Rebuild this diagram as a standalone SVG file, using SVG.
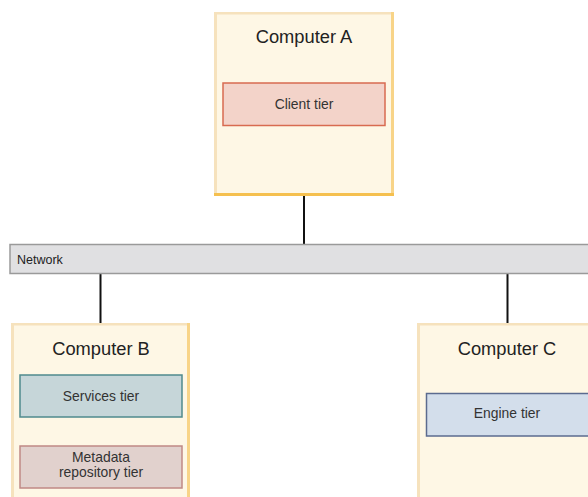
<svg xmlns="http://www.w3.org/2000/svg" width="588" height="497" viewBox="0 0 588 497">
<style>
.comp{fill:#fef7e5}
.edgeL{fill:#f6e2bd}
.edgeR{fill:#f8d488}
.edgeB{fill:#f5c04f}
.title{font-family:"Liberation Sans",Arial,sans-serif;font-size:18.3px;fill:#222;text-anchor:middle}
.lbl{font-family:"Liberation Sans",Arial,sans-serif;font-size:13.9px;fill:#333;text-anchor:middle}
.conn{stroke:#111;stroke-width:2;fill:none}
</style>
<rect width="588" height="497" fill="#ffffff"/>
<g id="connectors">
<line class="conn" x1="304" y1="195" x2="304" y2="244"/>
<line class="conn" x1="100.5" y1="274" x2="100.5" y2="323"/>
<line class="conn" x1="507.5" y1="274" x2="507.5" y2="323"/>
</g>
<g id="network">
<rect x="10" y="244.5" width="584" height="29" fill="#e0e0e2" stroke="#9a9a9a" stroke-width="1.5"/>
<text x="17" y="264" font-family="Liberation Sans,Arial,sans-serif" font-size="12.5px" fill="#222">Network</text>
</g>
<g id="computerA">
<rect class="comp" x="214" y="12" width="180" height="184"/>
<rect class="edgeL" x="214" y="12" width="180" height="2.5"/>
<rect class="edgeL" x="214" y="12" width="3" height="184"/>
<rect class="edgeR" x="391" y="12" width="3" height="184"/>
<rect class="edgeB" x="214" y="193" width="180" height="3"/>
<text class="title" x="304" y="42.5">Computer A</text>
</g>
<g id="clientTier">
<rect x="223" y="83" width="162" height="42.5" fill="#f3d3c9" stroke="#d86b50" stroke-width="1.5"/>
<text class="lbl" x="304" y="109">Client tier</text>
</g>
<g id="computerB">
<rect class="comp" x="11" y="323" width="179" height="180"/>
<rect class="edgeL" x="11" y="323" width="179" height="2.5"/>
<rect class="edgeL" x="11" y="323" width="3" height="180"/>
<rect class="edgeR" x="187" y="323" width="3" height="180"/>
<text class="title" x="101" y="355">Computer B</text>
</g>
<g id="servicesTier">
<rect x="20" y="375" width="162" height="42" fill="#c6d6d9" stroke="#4f8a8d" stroke-width="1.5"/>
<text class="lbl" x="101" y="400.7">Services tier</text>
</g>
<g id="metadataTier">
<rect x="20" y="446" width="162" height="42" fill="#e1d1cd" stroke="#c08985" stroke-width="1.5"/>
<text class="lbl" x="101" y="461.5">Metadata</text>
<text class="lbl" x="101" y="477">repository tier</text>
</g>
<g id="computerC">
<rect class="comp" x="417" y="323" width="180" height="180"/>
<rect class="edgeL" x="417" y="323" width="180" height="2.5"/>
<rect class="edgeL" x="417" y="323" width="3" height="180"/>
<text class="title" x="507" y="355">Computer C</text>
</g>
<g id="engineTier">
<rect x="426.5" y="393.5" width="164" height="42.5" fill="#d3deeb" stroke="#5b6b8f" stroke-width="1.5"/>
<text class="lbl" x="507" y="417.5">Engine tier</text>
</g>
</svg>
